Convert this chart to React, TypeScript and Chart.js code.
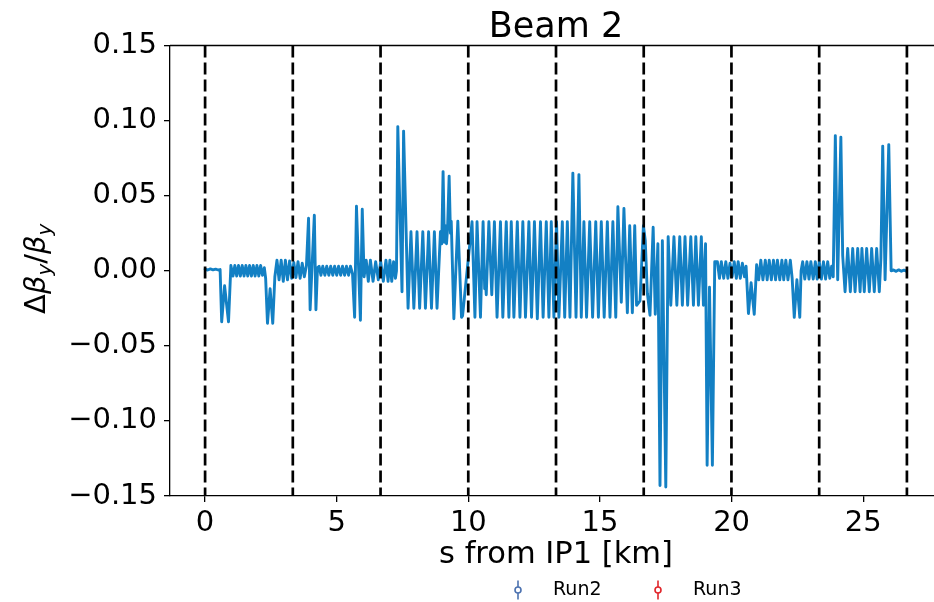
import React, { useEffect, useRef } from 'react';
import { Chart, registerables } from 'chart.js';

Chart.register(...registerables);

// ---- data (s from IP1 in km, Δβy/βy) ----
const sKm = [
  0.00, 0.10, 0.20, 0.30, 0.40, 0.50, 0.57,
  0.63, 0.74, 0.89, 0.98,
  1.06, 1.13, 1.20, 1.27, 1.34, 1.41, 1.48, 1.55, 1.62, 1.69,
  1.76, 1.83, 1.90, 1.97, 2.04, 2.11, 2.18, 2.25, 2.30,
  2.37, 2.47, 2.57, 2.65,
  2.73, 2.81, 2.89, 2.97, 3.05, 3.13, 3.21, 3.29,
  3.37, 3.45, 3.53, 3.61, 3.69, 3.77, 3.85,
  3.93, 3.99, 4.15, 4.21, 4.27,
  4.33, 4.40, 4.47, 4.55, 4.62, 4.70, 4.77, 4.85, 4.92,
  5.00, 5.07, 5.15, 5.22, 5.30, 5.37, 5.45, 5.52, 5.60,
  5.68, 5.75, 5.90, 5.97, 6.04,
  6.12, 6.20, 6.28, 6.38, 6.48, 6.58, 6.67, 6.77,
  6.87, 6.95, 7.02, 7.09, 7.16, 7.23, 7.27,
  7.32, 7.48, 7.54,
  7.71, 7.82, 7.93, 8.05, 8.15, 8.27, 8.37, 8.49, 8.60, 8.71, 8.81,
  8.94, 8.99, 9.04, 9.09, 9.13, 9.17, 9.21, 9.27, 9.32, 9.35,
  9.45, 9.60, 9.74, 9.78,
  10.14, 10.25, 10.33, 10.46, 10.56, 10.62, 10.66, 10.68, 10.78, 10.89,
  10.99, 11.09, 11.22, 11.31, 11.44, 11.54, 11.63, 11.73, 11.86, 11.96,
  12.07, 12.17, 12.30, 12.40, 12.51, 12.62, 12.74, 12.84, 12.96, 13.06,
  13.15, 13.25, 13.35, 13.44, 13.57, 13.66, 13.76, 13.86, 13.97, 14.09,
  14.20, 14.29, 14.39, 14.49, 14.61, 14.72, 14.84, 14.94, 15.05, 15.16,
  15.28, 15.38, 15.49, 15.60, 15.68, 15.81, 15.91, 16.04, 16.13, 16.23,
  16.32, 16.39, 16.52, 16.65, 16.72, 16.80,
  16.90, 17.02, 17.10, 17.20, 17.28, 17.37, 17.50, 17.59, 17.69,
  17.81, 17.92, 18.03, 18.13, 18.23, 18.33, 18.45, 18.55, 18.64, 18.74,
  18.85, 18.93, 19.01, 19.07, 19.16, 19.27, 19.36,
  19.46, 19.54, 19.61, 19.70, 19.78, 19.86, 19.94, 20.02,
  20.10, 20.18, 20.25, 20.33, 20.41, 20.49, 20.55,
  20.64, 20.74, 20.86, 20.95,
  21.03, 21.11, 21.19, 21.28, 21.35, 21.43, 21.51, 21.59, 21.67,
  21.74, 21.83, 21.91, 21.98, 22.06, 22.14, 22.23, 22.30,
  22.38, 22.48, 22.59, 22.64,
  22.70, 22.78, 22.86, 22.94, 23.01, 23.10, 23.18, 23.25,
  23.33, 23.41, 23.49, 23.57, 23.65, 23.73, 23.80, 23.86,
  23.94, 24.03, 24.15, 24.22, 24.31,
  24.41, 24.51, 24.60, 24.69, 24.79, 24.88, 24.95, 25.04, 25.13,
  25.23, 25.32, 25.42, 25.51, 25.61, 25.67,
  25.74, 25.83, 25.97, 26.06,
  26.15, 26.25, 26.35, 26.45, 26.55, 26.62,
];

const dBetaY = [
  0.0010, 0.0005, 0.0012, 0.0006, 0.0011, 0.0005, 0.0008,
  -0.034, -0.010, -0.034, 0.0035,
  -0.0035, 0.0035, -0.0035, 0.0035, -0.0035, 0.0035, -0.0035, 0.0035, -0.0035, 0.0035,
  -0.0035, 0.0035, -0.0035, 0.0035, -0.0035, 0.0035, -0.0030, 0.0020, -0.0050,
  -0.035, -0.012, -0.035, -0.004,
  0.007, -0.006, 0.007, -0.007, 0.007, -0.006, 0.0065, -0.005,
  0.0055, -0.0045, 0.006, -0.005, 0.005, -0.004, 0.0035,
  0.035, -0.026, 0.037, -0.026, 0.002,
  0.003, -0.003, 0.003, -0.003, 0.003, -0.003, 0.003, -0.003, 0.003,
  -0.003, 0.003, -0.003, 0.003, -0.003, 0.003, -0.003, 0.003, -0.002,
  -0.031, 0.043, -0.033, 0.041, -0.004,
  0.007, -0.007, 0.007, -0.007, 0.006, -0.006, 0.006, -0.007,
  0.007, -0.007, 0.007, -0.007, 0.006, -0.005, 0.000,
  0.096, -0.014, 0.093,
  -0.025, 0.026, -0.025, 0.026, -0.025, 0.026, -0.025, 0.026, -0.025, 0.026, -0.025,
  0.026, 0.018, 0.066, 0.019, 0.030, 0.018, 0.028, 0.063, 0.025, 0.033,
  -0.032, 0.033, -0.031, -0.030,
  0.0326, -0.031, 0.0326, -0.031, 0.0326, -0.012, -0.010, -0.016, 0.0326, -0.016,
  0.0326, -0.031, 0.0326, -0.031, 0.0326, -0.031, 0.0326, -0.031, 0.0326, -0.031,
  0.0326, -0.031, 0.0326, -0.031, 0.0326, -0.032, 0.0326, -0.031, 0.0326, -0.031,
  0.0326, -0.031, 0.0326, -0.031, 0.0326, -0.031, 0.0326, -0.031, 0.065, -0.031,
  0.064, -0.031, 0.0326, -0.031, 0.0326, -0.031, 0.0326, -0.031, 0.0326, -0.031,
  0.0326, -0.031, 0.0326, -0.031, 0.0426, -0.021, 0.0415, -0.028, 0.030, -0.028,
  0.030, -0.023, -0.020, 0.030, 0.020, -0.015,
  -0.0296, 0.029, -0.029, 0.018, -0.143, 0.020, -0.144, 0.0226, -0.023,
  0.0226, -0.023, 0.0226, -0.023, 0.0226, -0.023, 0.0226, -0.023, 0.0226, -0.023,
  0.0226, -0.023, 0.018, -0.1295, -0.011, -0.1295, 0.006,
  0.006, -0.005, 0.006, -0.005, 0.006, -0.005, 0.005, -0.004,
  0.006, -0.005, 0.006, -0.005, 0.005, -0.004, 0.003,
  -0.0285, -0.008, -0.029, 0.004,
  -0.006, 0.007, -0.006, 0.007, -0.006, 0.007, -0.006, 0.007, -0.006,
  0.007, -0.006, 0.007, -0.006, 0.007, -0.006, 0.007, -0.005,
  -0.031, -0.006, -0.031, 0.000,
  0.006, -0.0055, 0.006, -0.0055, 0.006, -0.0055, 0.006, -0.0055,
  0.006, -0.0055, 0.006, -0.0055, 0.006, -0.005, 0.003, -0.004,
  0.090, -0.006, 0.089, 0.010, -0.014,
  0.0148, -0.014, 0.0148, -0.014, 0.0148, -0.014, 0.0148, -0.014, 0.0148,
  -0.014, 0.0148, -0.014, 0.0148, -0.014, 0.008,
  0.083, -0.006, 0.084, 0.000,
  0.0005, -0.0004, 0.0006, -0.0003, 0.0004, -0.0002,
];

// octant boundaries (km)
const octantS = [0, 3.332, 6.665, 9.997, 13.33, 16.662, 19.994, 23.327, 26.659];

const xMin = -1.333;
const xMax = 27.992;
const yMin = -0.15;
const yMax = 0.15;
const xTickValues = [0, 5, 10, 15, 20, 25];
const xTickLabels = ['0', '5', '10', '15', '20', '25'];
const yTickValues = [-0.15, -0.1, -0.05, 0, 0.05, 0.1, 0.15];
const yTickLabels = ['−0.15', '−0.10', '−0.05', '0.00', '0.05', '0.10', '0.15'];

const legendLabels = ['Run2', 'Run3'];
const legendColors = ['#4c72b0', '#e0262b'];

const chartTitle = 'Beam 2';
const xAxisTitle = 's from IP1 [km]';

const FONT = '"DejaVu Sans", sans-serif';
const LINE_COLOR = '#1380c4';

const framePlugin = {
  id: 'framePlugin',
  afterDraw(chart: any) {
    const { ctx, chartArea: a } = chart;
    ctx.save();
    // top spine
    ctx.strokeStyle = '#000';
    ctx.lineWidth = 1.3;
    ctx.beginPath();
    ctx.moveTo(a.left, a.top);
    ctx.lineTo(a.right, a.top);
    ctx.stroke();

    // y-axis label  Δβ_y/β_y
    const big = 29;
    const small = 20;
    const parts = [
      { t: 'Δ', f: `${big}px ${FONT}`, dy: 0 },
      { t: 'β', f: `italic ${big}px ${FONT}`, dy: 0 },
      { t: 'y', f: `italic ${small}px ${FONT}`, dy: 6 },
      { t: '/', f: `${big}px ${FONT}`, dy: 0 },
      { t: 'β', f: `italic ${big}px ${FONT}`, dy: 0 },
      { t: 'y', f: `italic ${small}px ${FONT}`, dy: 6 },
    ];
    let total = 0;
    const widths = parts.map((p) => {
      ctx.font = p.f;
      const w = ctx.measureText(p.t).width;
      total += w;
      return w;
    });
    ctx.translate(45, (a.top + a.bottom) / 2 - 2);
    ctx.rotate(-Math.PI / 2);
    ctx.fillStyle = '#000';
    ctx.textBaseline = 'alphabetic';
    ctx.textAlign = 'left';
    let x = -total / 2;
    parts.forEach((p, i) => {
      ctx.font = p.f;
      ctx.fillText(p.t, x, p.dy);
      x += widths[i];
    });
    ctx.restore();

    // legend (errorbar markers)
    ctx.save();
    const cy = 590;
    legendLabels.forEach((lab, i) => {
      const cx = 518 + i * 140;
      ctx.strokeStyle = legendColors[i];
      ctx.lineWidth = 1.6;
      ctx.beginPath();
      ctx.moveTo(cx, cy - 9.5);
      ctx.lineTo(cx, cy + 9.5);
      ctx.stroke();
      ctx.fillStyle = '#ffffff';
      ctx.beginPath();
      ctx.arc(cx, cy, 3, 0, Math.PI * 2);
      ctx.fill();
      ctx.stroke();
      ctx.fillStyle = '#000';
      ctx.font = `19px ${FONT}`;
      ctx.textBaseline = 'middle';
      ctx.textAlign = 'left';
      ctx.fillText(lab, cx + 35, cy);
    });
    ctx.restore();
  },
};

export default function App() {
  const ref = useRef<HTMLCanvasElement | null>(null);

  useEffect(() => {
    if (!ref.current) return;
    const lineData = sKm.map((s, i) => ({ x: s, y: dBetaY[i] }));
    const vlines = octantS.map((s) => ({
      type: 'line' as const,
      label: 'octant',
      data: [
        { x: s, y: yMax },
        { x: s, y: yMin },
      ],
      borderColor: '#000',
      borderWidth: 2.7,
      borderDash: [12, 5],
      pointRadius: 0,
      order: 0,
    }));
    const chart = new Chart(ref.current, {
      type: 'line',
      data: {
        datasets: [
          ...vlines,
          {
            type: 'line',
            label: 'Beam 2',
            data: lineData,
            borderColor: LINE_COLOR,
            borderWidth: 2.9,
            borderJoinStyle: 'round',
            borderCapStyle: 'round',
            pointRadius: 0,
            tension: 0,
            order: 1,
          },
        ],
      },
      options: {
        responsive: false,
        animation: false,
        devicePixelRatio: 1,
        layout: { padding: { left: 0, right: 0, top: 0, bottom: 0 } },
        plugins: {
          legend: { display: false },
          tooltip: { enabled: false },
          title: {
            display: true,
            text: chartTitle,
            fullSize: false,
            color: '#000',
            font: { family: FONT, size: 35, weight: 'normal', lineHeight: 1 },
            padding: { top: 10, bottom: 0.5 },
          },
        },
        scales: {
          x: {
            type: 'linear',
            position: 'bottom',
            min: xMin,
            max: xMax,
            afterBuildTicks: (s: any) => {
              s.ticks = xTickValues.map((v) => ({ value: v }));
            },
            afterFit: (s: any) => {
              s.height = 106;
            },
            ticks: {
              color: '#000',
              font: { family: FONT, size: 29 },
              padding: 4,
              maxRotation: 0,
              autoSkip: false,
              callback: (v: any) => xTickLabels[xTickValues.indexOf(v)] ?? '',
            },
            grid: {
              drawOnChartArea: false,
              drawTicks: true,
              tickLength: 6,
              color: '#000',
              lineWidth: 1.3,
            },
            border: { display: true, color: '#000', width: 1.3 },
            title: {
              display: true,
              text: xAxisTitle,
              color: '#000',
              font: { family: FONT, size: 30.5 },
              padding: { top: 0, bottom: 29 },
            },
          },
          y: {
            type: 'linear',
            min: yMin,
            max: yMax,
            afterBuildTicks: (s: any) => {
              s.ticks = yTickValues.map((v) => ({ value: v }));
            },
            afterFit: (s: any) => {
              s.width = 170;
            },
            ticks: {
              color: '#000',
              font: { family: FONT, size: 29 },
              padding: 7,
              autoSkip: false,
              callback: (v: any) => {
                const i = yTickValues.findIndex((t) => Math.abs(t - v) < 1e-9);
                return i >= 0 ? yTickLabels[i] : '';
              },
            },
            grid: {
              drawOnChartArea: false,
              drawTicks: true,
              tickLength: 6,
              color: '#000',
              lineWidth: 1.3,
            },
            border: { display: true, color: '#000', width: 1.3 },
          },
        },
      },
      plugins: [framePlugin],
    } as any);
    return () => chart.destroy();
  }, []);

  return (
    <div
      style={{
        position: 'fixed',
        left: 0,
        top: 0,
        width: 934,
        height: 602,
        overflow: 'hidden',
        background: '#fff',
      }}
    >
      <canvas ref={ref} width={942} height={602} style={{ display: 'block' }} />
    </div>
  );
}
